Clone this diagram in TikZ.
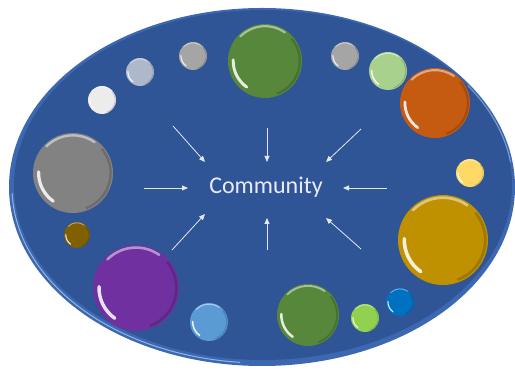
\documentclass[tikz,border=0pt]{standalone}
\usepackage{fontspec}
\setmainfont{Carlito}
\usetikzlibrary{arrows.meta}

\definecolor{platebase}{HTML}{2F5597}
\definecolor{platerim}{HTML}{3C68B2}
\definecolor{rimline}{HTML}{A9C8EC}
\definecolor{arrowc}{HTML}{E2E8F2}
\definecolor{cGreen}{HTML}{56873A}
\definecolor{cOrange}{HTML}{C55A11}
\definecolor{cGold}{HTML}{BF9000}
\definecolor{cYellow}{HTML}{FFD966}
\definecolor{cMint}{HTML}{A9D18E}
\definecolor{cSilver}{HTML}{A5A5A5}
\definecolor{cSteel}{HTML}{ADB9CA}
\definecolor{cWhite}{HTML}{ECECEC}
\definecolor{cGray}{HTML}{828282}
\definecolor{cBronze}{HTML}{806000}
\definecolor{cPurple}{HTML}{7030A0}
\definecolor{cSky}{HTML}{5B9BD5}
\definecolor{cLime}{HTML}{92D050}
\definecolor{cBlue}{HTML}{0070C0}

\tikzset{
  bubble/.style={circle, inner sep=0pt, draw=none},
  inflow/.style={draw=arrowc, line width=0.8pt, -{Triangle[length=6pt,width=5pt]}},
  label text/.style={text=white!92!blue, font=\fontsize{24}{28}\selectfont, inner sep=0pt}
}

% glossy bubble: name, x, y, radius, colour
\newcommand\drawbubble[5]{%
  \node[bubble, minimum size=#4*2pt, fill=#5] (#1) at (#2,#3) {};
  \pgfmathsetmacro\bA{0.86*#4}%
  \pgfmathsetmacro\bB{0.94*#4}%
  \pgfmathsetmacro\bLa{max(0.08*#4,1.1)}%
  \pgfmathsetmacro\bLb{max(0.06*#4,0.8)}%
  \begin{scope}[shift={(#1.center)}]
    % dark lower-right rim
    \draw[#5!70!black, line width=\bLb pt, opacity=.55]
      (-70:\bB pt) arc[start angle=-70, end angle=40, radius=\bB pt];
    % light upper rim
    \draw[#5!40!white, line width=\bLb pt, opacity=.8, line cap=round]
      (55:\bB pt) arc[start angle=55, end angle=135, radius=\bB pt];
    % white reflection, lower left
    \draw[white, line width=\bLa pt, opacity=.85, line cap=round]
      (178:\bA pt) arc[start angle=178, end angle=235, radius=\bA pt];
  \end{scope}
}

\begin{document}
\begin{tikzpicture}[x=1pt, y=1pt]
  \useasboundingbox (0,0) rectangle (515,371);

  % bevelled plate
  \fill[platerim] (262,184) ellipse[x radius=253, y radius=179];
  \fill[platebase] (263,186) ellipse[x radius=249, y radius=175];
  \draw[rimline, line width=1pt, opacity=.8]
    (262,184) ++(182:250pt and 176pt) arc[start angle=182, end angle=265, x radius=250pt, y radius=176pt];
  \draw[rimline, line width=1pt, opacity=.6]
    (262,184) ++(8:251pt and 177pt) arc[start angle=8, end angle=35, x radius=251pt, y radius=177pt];

  % ring of bubbles
  \drawbubble{topgreen}{265}{310}{37}{cGreen}
  \drawbubble{silverL}{193}{315}{14}{cSilver}
  \drawbubble{steel}{140}{299}{14}{cSteel}
  \drawbubble{pearl}{102}{271}{14}{cWhite}
  \drawbubble{bigray}{73}{198}{40}{cGray}
  \drawbubble{bronze}{77}{136}{13}{cBronze}
  \drawbubble{purple}{136}{83}{43}{cPurple}
  \drawbubble{sky}{209}{49}{19}{cSky}
  \drawbubble{lowgreen}{308}{56}{31}{cGreen}
  \drawbubble{lime}{365}{53}{14}{cLime}
  \drawbubble{blue}{400}{69}{14}{cBlue}
  \drawbubble{gold}{443}{131}{45}{cGold}
  \drawbubble{yellow}{470}{198}{14}{cYellow}
  \drawbubble{orange}{435}{268}{35}{cOrange}
  \drawbubble{mint}{388}{300}{19}{cMint}
  \drawbubble{silverR}{345}{315}{14}{cSilver}

  % centre label
  \node[label text] (community) at (266,184) {Community};

  % arrows pointing in
  \coordinate (nwT) at (173,245); \coordinate (nwH) at (205,209);
  \coordinate (nT)  at (267,243); \coordinate (nH)  at (267,209);
  \coordinate (neT) at (361,242); \coordinate (neH) at (326,209);
  \coordinate (wT)  at (144,183); \coordinate (wH)  at (188,183);
  \coordinate (eT)  at (387,183); \coordinate (eH)  at (343,183);
  \coordinate (swT) at (172,121); \coordinate (swH) at (205,157);
  \coordinate (sT)  at (267,121); \coordinate (sH)  at (267,153);
  \coordinate (seT) at (361,122); \coordinate (seH) at (326,153);
  \foreach \d in {nw,n,ne,w,e,sw,s,se}
    \draw[inflow] (\d T) -- (\d H);
\end{tikzpicture}
\end{document}
